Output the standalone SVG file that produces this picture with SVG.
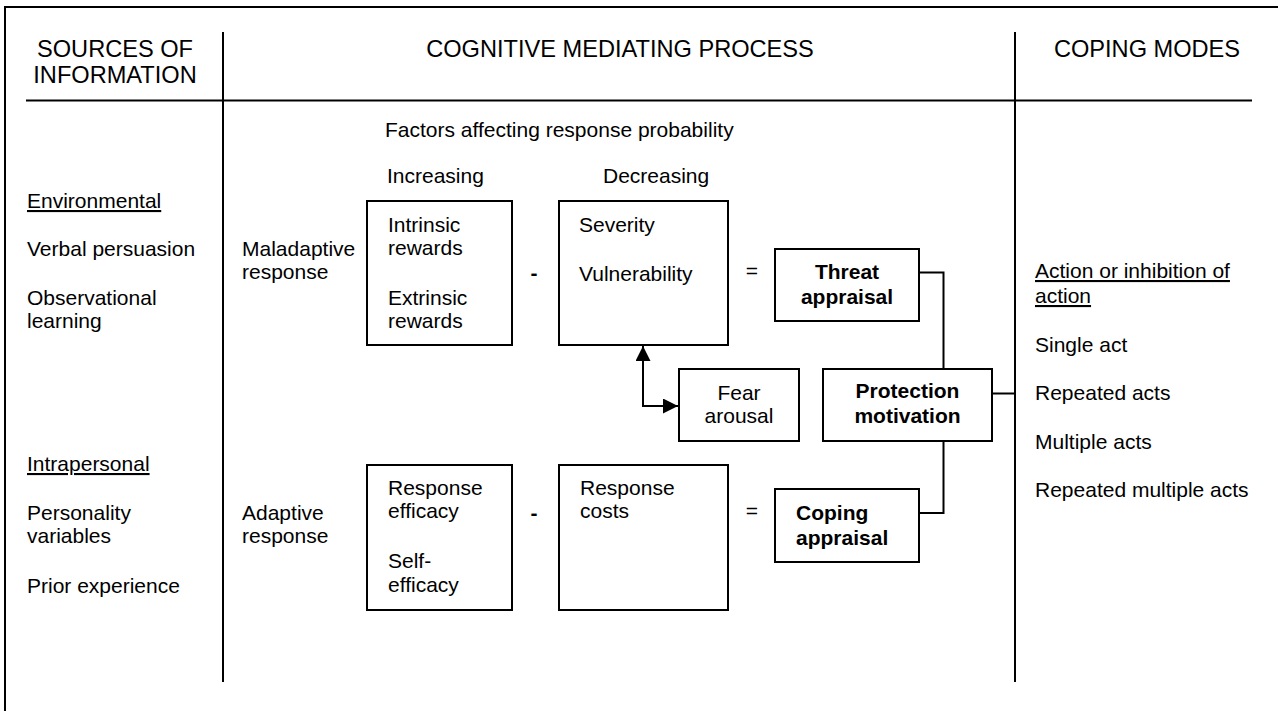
<svg xmlns="http://www.w3.org/2000/svg" width="1278" height="711" viewBox="0 0 1278 711">
  <defs>
    <style>
      .frame { fill: none; stroke: #000; stroke-width: 2; }
      .box { fill: #fff; stroke: #000; stroke-width: 2; }
      .wire { fill: none; stroke: #000; stroke-width: 2; }
      text { font-family: "Liberation Sans", Arial, sans-serif; font-size: 21px; fill: #000; }
      .head { font-size: 23.6px; text-anchor: middle; }
      .bold { font-weight: bold; }
      .mid { text-anchor: middle; }
      .ul { text-decoration: underline; }
    </style>
    <marker id="arrow" viewBox="0 0 10 10" refX="10" refY="5" markerWidth="15" markerHeight="15" markerUnits="userSpaceOnUse" orient="auto">
      <path d="M0,0 L10,5 L0,10 Z" fill="#000"/>
    </marker>
  </defs>

  <rect x="0" y="0" width="1278" height="711" fill="#fff"/>

  <!-- table frame -->
  <g id="frame">
    <rect class="frame" x="5" y="7" width="1300" height="740"/>
    <line class="frame" x1="223" y1="32" x2="223" y2="682"/>
    <line class="frame" x1="1015" y1="32" x2="1015" y2="682"/>
    <line class="frame" x1="26" y1="100.5" x2="1252" y2="100.5"/>
  </g>

  <!-- column headings -->
  <g id="headings">
    <text class="head" x="115" y="57">SOURCES OF</text>
    <text class="head" x="115" y="83">INFORMATION</text>
    <text class="head" x="620" y="57">COGNITIVE MEDIATING PROCESS</text>
    <text class="head" x="1147" y="57">COPING MODES</text>
  </g>

  <!-- sources of information -->
  <g id="sources">
    <text class="ul" x="27" y="208">Environmental</text>
    <text x="27" y="256">Verbal persuasion</text>
    <text x="27" y="305">Observational</text>
    <text x="27" y="328">learning</text>
    <text class="ul" x="27" y="471">Intrapersonal</text>
    <text x="27" y="520">Personality</text>
    <text x="27" y="543">variables</text>
    <text x="27" y="593">Prior experience</text>
  </g>

  <!-- mediating process labels -->
  <g id="labels">
    <text x="385" y="137">Factors affecting response probability</text>
    <text x="387" y="183">Increasing</text>
    <text x="603" y="183">Decreasing</text>
    <text x="242" y="256">Maladaptive</text>
    <text x="242" y="279">response</text>
    <text x="242" y="520">Adaptive</text>
    <text x="242" y="543">response</text>
    <text class="bold mid" x="534" y="280">-</text>
    <text class="mid" x="752" y="278">=</text>
    <text class="bold mid" x="534" y="520">-</text>
    <text class="mid" x="752" y="518">=</text>
  </g>

  <g id="increasing-maladaptive">
    <rect class="box" x="367" y="201" width="145" height="144"/>
    <text x="388" y="232">Intrinsic</text>
    <text x="388" y="255">rewards</text>
    <text x="388" y="305">Extrinsic</text>
    <text x="388" y="328">rewards</text>
  </g>

  <g id="decreasing-maladaptive">
    <rect class="box" x="559" y="201" width="169" height="144"/>
    <text x="579" y="232">Severity</text>
    <text x="579" y="281">Vulnerability</text>
  </g>

  <g id="threat-appraisal">
    <rect class="box" x="775" y="249" width="144" height="72"/>
    <text class="bold mid" x="847" y="279">Threat</text>
    <text class="bold mid" x="847" y="304">appraisal</text>
  </g>

  <g id="fear-arousal">
    <rect class="box" x="679" y="369" width="120" height="72"/>
    <text class="mid" x="739" y="400">Fear</text>
    <text class="mid" x="739" y="423">arousal</text>
  </g>

  <g id="protection-motivation">
    <rect class="box" x="823" y="369" width="169" height="72"/>
    <text class="bold mid" x="907.5" y="398">Protection</text>
    <text class="bold mid" x="907.5" y="423">motivation</text>
  </g>

  <g id="increasing-adaptive">
    <rect class="box" x="367" y="465" width="145" height="145"/>
    <text x="388" y="495">Response</text>
    <text x="388" y="518">efficacy</text>
    <text x="388" y="568">Self-</text>
    <text x="388" y="592">efficacy</text>
  </g>

  <g id="decreasing-adaptive">
    <rect class="box" x="559" y="465" width="169" height="145"/>
    <text x="580" y="495">Response</text>
    <text x="580" y="518">costs</text>
  </g>

  <g id="coping-appraisal">
    <rect class="box" x="775" y="489" width="144" height="73"/>
    <text class="bold" x="796" y="520">Coping</text>
    <text class="bold" x="796" y="545">appraisal</text>
  </g>

  <!-- coping modes -->
  <g id="modes">
    <text class="ul" x="1035" y="278">Action or inhibition of</text>
    <text class="ul" x="1035" y="303">action</text>
    <text x="1035" y="352">Single act</text>
    <text x="1035" y="400">Repeated acts</text>
    <text x="1035" y="449">Multiple acts</text>
    <text x="1035" y="497">Repeated multiple acts</text>
  </g>

  <!-- connectors -->
  <g id="connectors">
    <path class="wire" d="M919,272.5 H943.5 V369"/>
    <path class="wire" d="M943.5,441 V513 H919"/>
    <path class="wire" d="M992,393.5 H1015"/>
    <path class="wire" d="M643,406 V346" marker-end="url(#arrow)"/>
    <path class="wire" d="M642,406 H678" marker-end="url(#arrow)"/>
  </g>
</svg>
